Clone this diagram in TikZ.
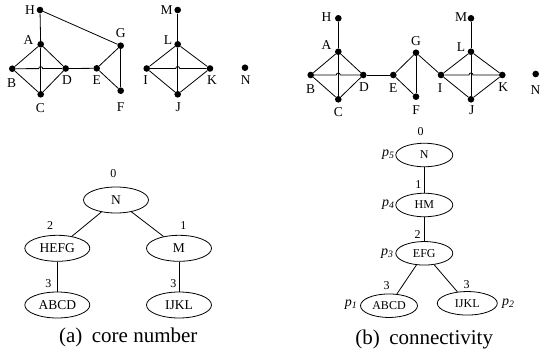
\documentclass[tikz,border=0pt]{standalone}
\usepackage{fontspec}
\setmainfont{Liberation Serif}
\usetikzlibrary{shapes.geometric}
\begin{document}
\begin{tikzpicture}[x=1pt,y=-1pt,
  dot/.style={circle,fill=black,inner sep=0pt,minimum size=6.6pt},
  vlab/.style={inner sep=0pt,font=\fontsize{13.5}{14}\selectfont},
  tnode/.style={ellipse,draw,line width=0.8pt,inner sep=0pt,minimum width=65pt,minimum height=26pt,font=\fontsize{13.5}{14}\selectfont},
  tnodeb/.style={ellipse,draw,line width=0.8pt,inner sep=0pt,minimum width=57pt,minimum height=23.5pt,font=\fontsize{12}{13}\selectfont},
  num/.style={inner sep=0pt,font=\fontsize{12}{13}\selectfont},
  plab/.style={inner sep=0pt,font=\fontsize{14}{15}\selectfont\itshape},
  edge/.style={line width=0.8pt},
  captext/.style={inner sep=0pt,font=\fontsize{21}{23}\selectfont}]
\useasboundingbox (0,0) rectangle (541,362);
% ---------- left graph ----------
\node[dot] (H) at (40,10) {};
\node[dot] (A) at (40.7,44.3) {};
\node[dot] (B) at (12.3,68.7) {};
\node[dot] (D) at (65.7,68.5) {};
\node[dot] (C) at (40.7,94.3) {};
\node[dot] (E) at (96.7,68.3) {};
\node[dot] (G) at (120.7,45.7) {};
\node[dot] (F) at (120.7,90.7) {};
\node[dot] (M) at (177.7,10) {};
\node[dot] (L) at (177.7,44.3) {};
\node[dot] (I) at (146.7,68.5) {};
\node[dot] (K) at (210,68.5) {};
\node[dot] (J) at (177.7,94.3) {};
\node[dot] (N) at (245,67.7) {};
\node[vlab] (lH) at (30,10) {H};
\node[vlab] (lA) at (28.5,40) {A};
\node[vlab] (lB) at (11.7,83) {B};
\node[vlab] (lD) at (67,80.5) {D};
\node[vlab] (lC) at (40.5,108) {C};
\node[vlab] (lE) at (96.7,80.5) {E};
\node[vlab] (lG) at (120.7,33) {G};
\node[vlab] (lF) at (120.7,107) {F};
\node[vlab] (lM) at (166.5,10) {M};
\node[vlab] (lL) at (168,40) {L};
\node[vlab] (lI) at (145.7,80.5) {I};
\node[vlab] (lK) at (212,80.5) {K};
\node[vlab] (lJ) at (178.3,107) {J};
\node[vlab] (lN) at (245.7,80.5) {N};
\draw[edge] (H) -- (A);
\draw[edge] (H) -- (G);
\draw[edge] (A) -- (B);
\draw[edge] (A) -- (D);
\draw[edge] (A) -- (C);
\draw[edge] (B) -- (C);
\draw[edge] (C) -- (D);
\draw[edge] (B) -- (38.7,68.6) arc[start angle=180,end angle=360,radius=2] -- (D);
\draw[edge] (D) -- (E);
\draw[edge] (E) -- (G);
\draw[edge] (E) -- (F);
\draw[edge] (G) -- (F);
\draw[edge] (M) -- (L);
\draw[edge] (L) -- (I);
\draw[edge] (L) -- (K);
\draw[edge] (L) -- (J);
\draw[edge] (I) -- (J);
\draw[edge] (J) -- (K);
\draw[edge] (I) -- (175.7,68.5) arc[start angle=180,end angle=360,radius=2] -- (K);
% ---------- right graph ----------
\node[dot] (rH) at (338.3,18.3) {};
\node[dot] (rA) at (338.3,51.7) {};
\node[dot] (rB) at (310.7,75) {};
\node[dot] (rD) at (363.3,75) {};
\node[dot] (rC) at (338.3,99.3) {};
\node[dot] (rE) at (393.3,75) {};
\node[dot] (rG) at (416,52.7) {};
\node[dot] (rF) at (416,96.7) {};
\node[dot] (rI) at (441,75) {};
\node[dot] (rM) at (471,18.3) {};
\node[dot] (rL) at (471,51.7) {};
\node[dot] (rK) at (502.3,75) {};
\node[dot] (rJ) at (471,99.3) {};
\node[dot] (rN) at (535.7,74) {};
\node[vlab] (rlH) at (326.5,16.7) {H};
\node[vlab] (rlA) at (326.5,45) {A};
\node[vlab] (rlB) at (310.7,89.3) {B};
\node[vlab] (rlD) at (364,87.5) {D};
\node[vlab] (rlC) at (338.3,111.7) {C};
\node[vlab] (rlE) at (393.3,88.3) {E};
\node[vlab] (rlG) at (416,40.7) {G};
\node[vlab] (rlF) at (416,110) {F};
\node[vlab] (rlI) at (440,88.3) {I};
\node[vlab] (rlM) at (461,16.7) {M};
\node[vlab] (rlL) at (461,46.7) {L};
\node[vlab] (rlK) at (503.3,87.5) {K};
\node[vlab] (rlJ) at (471.7,110) {J};
\node[vlab] (rlN) at (535.6,90) {N};
\draw[edge] (rH) -- (rA);
\draw[edge] (rA) -- (rB);
\draw[edge] (rA) -- (rD);
\draw[edge] (rA) -- (rC);
\draw[edge] (rB) -- (rC);
\draw[edge] (rC) -- (rD);
\draw[edge] (rB) -- (336.3,75) arc[start angle=180,end angle=360,radius=2] -- (rD);
\draw[edge] (rD) -- (rE);
\draw[edge] (rE) -- (rG);
\draw[edge] (rE) -- (rF);
\draw[edge] (rG) -- (rF);
\draw[edge] (rG) -- (rI);
\draw[edge] (rM) -- (rL);
\draw[edge] (rL) -- (rI);
\draw[edge] (rL) -- (rK);
\draw[edge] (rL) -- (rJ);
\draw[edge] (rI) -- (rJ);
\draw[edge] (rJ) -- (rK);
\draw[edge] (rI) -- (469,75) arc[start angle=180,end angle=360,radius=2] -- (rK);
% ---------- tree (a) ----------
\node[tnode] (aN) at (116,200) {N};
\node[tnode] (aHEFG) at (57.3,248.3) {HEFG};
\node[tnode] (aM) at (179,248.3) {M};
\node[tnode] (aABCD) at (57.3,305) {ABCD};
\node[tnode] (aIJKL) at (179,305) {IJKL};
\node[num] (a0) at (113.3,173.3) {0};
\node[num] (a2) at (50,226) {2};
\node[num] (a1) at (183.3,226) {1};
\node[num] (a3l) at (48.3,283.3) {3};
\node[num] (a3r) at (173.3,283.3) {3};
\draw[edge] (aN) -- (aHEFG);
\draw[edge] (aN) -- (aM);
\draw[edge] (aHEFG) -- (aABCD);
\draw[edge] (aM) -- (aIJKL);
\node[captext] (capa) at (128.3,337.5) {(a)\hspace{0.45em}core number};
% ---------- tree (b) ----------
\node[tnodeb] (bN) at (424.3,155) {N};
\node[tnodeb] (bHM) at (424.3,205) {HM};
\node[tnodeb] (bEFG) at (424.3,253.3) {EFG};
\node[tnodeb] (bABCD) at (389,305.7) {ABCD};
\node[tnodeb,minimum width=60pt] (bIJKL) at (467.3,303.3) {IJKL};
\node[num] (b0) at (420.7,131.7) {0};
\node[num] (b1) at (418.3,185) {1};
\node[num] (b2) at (417.7,235) {2};
\node[num] (b3l) at (386.7,285.7) {3};
\node[num] (b3r) at (466.7,284.3) {3};
\node[plab] (p5) at (388.3,154.3) {p\textsubscript{5}};
\node[plab] (p4) at (388.3,204.3) {p\textsubscript{4}};
\node[plab] (p3) at (387.3,253.3) {p\textsubscript{3}};
\node[plab] (p1) at (351,304.3) {p\textsubscript{1}};
\node[plab] (p2) at (508.3,303.3) {p\textsubscript{2}};
\draw[edge] (bN) -- (bHM);
\draw[edge] (bHM) -- (bEFG);
\draw[edge] (bEFG) -- (bABCD);
\draw[edge] (bEFG) -- (bIJKL);
\node[captext] (capb) at (424.2,339) {(b)\hspace{0.45em}connectivity};
\end{tikzpicture}
\end{document}
